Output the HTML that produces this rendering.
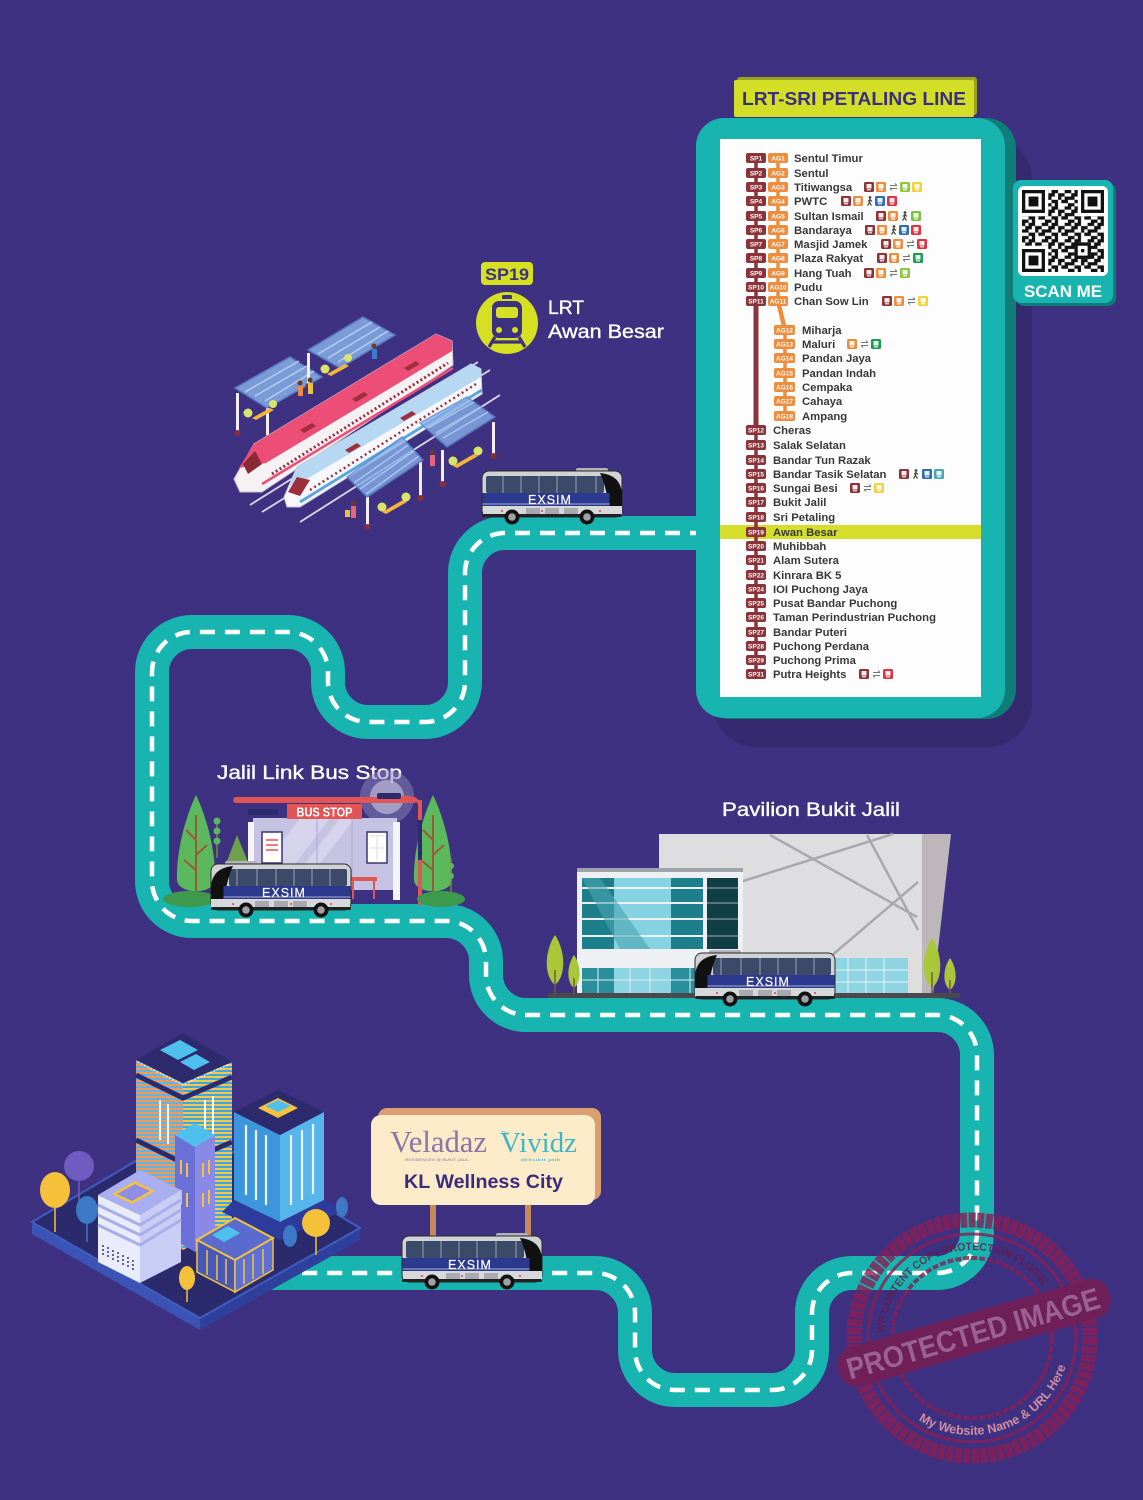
<!DOCTYPE html>
<html><head><meta charset="utf-8">
<style>
html,body{margin:0;padding:0;background:#3f3182;}
svg{display:block;}
text{font-family:"Liberation Sans",sans-serif;}
.bd{font-size:6.5px;font-weight:bold;fill:#fff;text-anchor:middle;}
.st{font-size:11.3px;font-weight:bold;fill:#383838;}
.lbl{fill:#fff;font-size:19.5px;stroke:#fff;stroke-width:0.35;}
.ex{font-size:12.5px;fill:#fff;text-anchor:middle;letter-spacing:1px;stroke:#fff;stroke-width:0.2;}
.serif{font-family:"Liberation Serif",serif;}
</style></head><body>
<svg width="1143" height="1500" viewBox="0 0 1143 1500" xmlns="http://www.w3.org/2000/svg">
<defs>
 <g id="bus">
  <rect x="94" y="0" width="32" height="6" rx="2" fill="#b3b4ba"/>
  <rect x="0" y="3" width="140" height="46" rx="7" fill="#d1d2d6" stroke="#2a2a2a" stroke-width="1"/>
  <rect x="4" y="8" width="118" height="17" rx="2" fill="#3c4a69"/>
  <g stroke="#8a93a8" stroke-width="1.2">
   <line x1="21" y1="8" x2="21" y2="25"/><line x1="39" y1="8" x2="39" y2="25"/><line x1="57" y1="8" x2="57" y2="25"/>
   <line x1="75" y1="8" x2="75" y2="25"/><line x1="94" y1="8" x2="94" y2="25"/><line x1="114" y1="8" x2="114" y2="25"/>
  </g>
  <path d="M118 5 Q139 7 140 26 L140 39 L127 39 Q124 18 118 5Z" fill="#111"/>
  <rect x="0.5" y="25" width="127" height="13" fill="#2b3a8e"/>
  <rect x="0.5" y="35.5" width="127" height="1" fill="#fff" opacity=".6"/>
  <rect x="1" y="38" width="139" height="9" fill="#d7d8dc"/>
  <rect x="44" y="40" width="14" height="6" fill="#a9aab0"/>
  <rect x="63" y="40" width="14" height="6" fill="#a9aab0"/>
  <rect x="82" y="40" width="14" height="6" fill="#a9aab0"/>
  <circle cx="20" cy="43" r="1" fill="#e04040"/><circle cx="60" cy="43" r="1" fill="#e04040"/><circle cx="118" cy="43" r="1" fill="#e04040"/>
  <rect x="0" y="46" width="140" height="3" rx="1.5" fill="#222"/>
  <circle cx="30" cy="49" r="7.5" fill="#111"/><circle cx="30" cy="49" r="3.8" fill="#a0a0a5"/>
  <circle cx="105" cy="49" r="7.5" fill="#111"/><circle cx="105" cy="49" r="3.8" fill="#a0a0a5"/>
 </g>
 <g id="ic"><rect width="10" height="10" rx="1.5"/><rect x="2.5" y="2" width="5" height="4.5" fill="#fff" opacity=".9"/><rect x="3" y="7.2" width="4" height="1.2" fill="#fff" opacity=".9"/></g>
 <g id="xf"><path d="M1 3.5h7M6 1.5l2 2M8 6.5h-7M3 8.5l-2-2" stroke="#777" stroke-width="1" fill="none"/></g>
 <g id="wk"><circle cx="5" cy="1.5" r="1.4" fill="#444"/><path d="M5 3L4.5 6.5L2.5 9.5M4.5 6.5L6.5 9.5M3 5.5L5 3.5L7 5.5" stroke="#444" stroke-width="1.2" fill="none"/></g>
 <pattern id="qrp" width="7" height="5" patternUnits="userSpaceOnUse">
  <path d="M0 0h1v1h-1zM2 0h2v1h-2zM6 0h1v1h-1zM1 1h2v1h-2zM4 1h2v1h-2zM0 2h2v1h-2zM4 2h1v1h-1zM6 2h1v1h-1zM2 3h2v1h-2zM5 3h2v1h-2zM0 4h2v1h-2zM3 4h1v1h-1z" fill="#111"/>
 </pattern>
 <pattern id="stripeO" width="4" height="4" patternUnits="userSpaceOnUse">
  <rect width="4" height="4" fill="#5fb3e6"/><rect width="4" height="2" fill="#f29a55"/>
 </pattern>
 <pattern id="stripeY" width="4" height="4" patternUnits="userSpaceOnUse">
  <rect width="4" height="4" fill="#3aa8e2"/><rect width="4" height="2" fill="#f7c548"/>
 </pattern>
</defs>

<rect width="1143" height="1500" fill="#3f3182"/>

<!-- ROAD -->
<path d="M705 533 H505 A40 40 0 0 0 465 573 V682 A40 40 0 0 1 425 722 H368 A40 40 0 0 1 328 682 V672 A40 40 0 0 0 288 632 H192 A40 40 0 0 0 152 672 V881 A40 40 0 0 0 192 921 H446 A40 40 0 0 1 486 961 V975 A40 40 0 0 0 526 1015 H937 A40 40 0 0 1 977 1055 V1233 A40 40 0 0 1 937 1273 H852 A40 40 0 0 0 812 1313 V1350 A40 40 0 0 1 772 1390 H675 A40 40 0 0 1 635 1350 V1313 A40 40 0 0 0 595 1273 H270" fill="none" stroke="#18b5b0" stroke-width="34"/>
<path d="M705 533 H505 A40 40 0 0 0 465 573 V682 A40 40 0 0 1 425 722 H368 A40 40 0 0 1 328 682 V672 A40 40 0 0 0 288 632 H192 A40 40 0 0 0 152 672 V881 A40 40 0 0 0 192 921 H446 A40 40 0 0 1 486 961 V975 A40 40 0 0 0 526 1015 H937 A40 40 0 0 1 977 1055 V1233 A40 40 0 0 1 937 1273 H852 A40 40 0 0 0 812 1313 V1350 A40 40 0 0 1 772 1390 H675 A40 40 0 0 1 635 1350 V1313 A40 40 0 0 0 595 1273 H270" fill="none" stroke="#fff" stroke-width="4.5" stroke-dasharray="15 10"/>

<!-- PANEL -->
<rect x="712" y="135" width="320" height="612" rx="45" fill="#35296f"/>
<rect x="700" y="118" width="316" height="601" rx="30" fill="#0f7d78"/>
<rect x="696" y="118" width="309" height="600" rx="28" fill="#18b5b0"/>
<rect x="720" y="139" width="261" height="558" fill="#fdfdfd"/>
<rect x="720" y="525" width="261" height="14" fill="#d5df2b"/>
<rect x="737" y="77" width="240" height="38" rx="3" fill="#9aa51c"/>
<rect x="734" y="80" width="240" height="37" rx="2" fill="#d3df27"/>
<text x="854" y="105" text-anchor="middle" font-size="18.5" font-weight="bold" fill="#3b2d82" textLength="224" lengthAdjust="spacingAndGlyphs">LRT-SRI PETALING LINE</text>

<!-- line connectors -->
<line x1="756" y1="158" x2="756" y2="674" stroke="#8b3338" stroke-width="3.5"/>
<line x1="756" y1="301" x2="756" y2="430" stroke="#8b3338" stroke-width="5"/>
<line x1="778" y1="158" x2="778" y2="301" stroke="#ef8d3e" stroke-width="3.5"/>
<line x1="778" y1="301" x2="785" y2="330" stroke="#ef8d3e" stroke-width="4.5"/>
<line x1="785" y1="330" x2="785" y2="416" stroke="#ef8d3e" stroke-width="3.5"/>

<!-- SP+AG rows -->
<g>
<rect x="746" y="153" width="20" height="10" rx="2" fill="#8b3338"/><rect x="768" y="153" width="20" height="10" rx="2" fill="#ef8d3e"/><text x="756" y="160.3" class="bd">SP1</text><text x="778" y="160.3" class="bd">AG1</text><text x="794" y="162" class="st">Sentul Timur</text>
<rect x="746" y="168" width="20" height="10" rx="2" fill="#8b3338"/><rect x="768" y="168" width="20" height="10" rx="2" fill="#ef8d3e"/><text x="756" y="175.3" class="bd">SP2</text><text x="778" y="175.3" class="bd">AG2</text><text x="794" y="177" class="st">Sentul</text>
<rect x="746" y="182" width="20" height="10" rx="2" fill="#8b3338"/><rect x="768" y="182" width="20" height="10" rx="2" fill="#ef8d3e"/><text x="756" y="189.3" class="bd">SP3</text><text x="778" y="189.3" class="bd">AG3</text><text x="794" y="191" class="st">Titiwangsa</text>
<rect x="746" y="196" width="20" height="10" rx="2" fill="#8b3338"/><rect x="768" y="196" width="20" height="10" rx="2" fill="#ef8d3e"/><text x="756" y="203.3" class="bd">SP4</text><text x="778" y="203.3" class="bd">AG4</text><text x="794" y="205" class="st">PWTC</text>
<rect x="746" y="211" width="20" height="10" rx="2" fill="#8b3338"/><rect x="768" y="211" width="20" height="10" rx="2" fill="#ef8d3e"/><text x="756" y="218.3" class="bd">SP5</text><text x="778" y="218.3" class="bd">AG5</text><text x="794" y="220" class="st">Sultan Ismail</text>
<rect x="746" y="225" width="20" height="10" rx="2" fill="#8b3338"/><rect x="768" y="225" width="20" height="10" rx="2" fill="#ef8d3e"/><text x="756" y="232.3" class="bd">SP6</text><text x="778" y="232.3" class="bd">AG6</text><text x="794" y="234" class="st">Bandaraya</text>
<rect x="746" y="239" width="20" height="10" rx="2" fill="#8b3338"/><rect x="768" y="239" width="20" height="10" rx="2" fill="#ef8d3e"/><text x="756" y="246.3" class="bd">SP7</text><text x="778" y="246.3" class="bd">AG7</text><text x="794" y="248" class="st">Masjid Jamek</text>
<rect x="746" y="253" width="20" height="10" rx="2" fill="#8b3338"/><rect x="768" y="253" width="20" height="10" rx="2" fill="#ef8d3e"/><text x="756" y="260.3" class="bd">SP8</text><text x="778" y="260.3" class="bd">AG8</text><text x="794" y="262" class="st">Plaza Rakyat</text>
<rect x="746" y="268" width="20" height="10" rx="2" fill="#8b3338"/><rect x="768" y="268" width="20" height="10" rx="2" fill="#ef8d3e"/><text x="756" y="275.3" class="bd">SP9</text><text x="778" y="275.3" class="bd">AG9</text><text x="794" y="277" class="st">Hang Tuah</text>
<rect x="746" y="282" width="20" height="10" rx="2" fill="#8b3338"/><rect x="768" y="282" width="20" height="10" rx="2" fill="#ef8d3e"/><text x="756" y="289.3" class="bd">SP10</text><text x="778" y="289.3" class="bd">AG10</text><text x="794" y="291" class="st">Pudu</text>
<rect x="746" y="296" width="20" height="10" rx="2" fill="#8b3338"/><rect x="768" y="296" width="20" height="10" rx="2" fill="#ef8d3e"/><text x="756" y="303.3" class="bd">SP11</text><text x="778" y="303.3" class="bd">AG11</text><text x="794" y="305" class="st">Chan Sow Lin</text>
</g>
<!-- AG rows -->
<g>
<rect x="774" y="325" width="21" height="10" rx="2" fill="#ef8d3e"/><text x="784.5" y="332.3" class="bd">AG12</text><text x="802" y="334" class="st">Miharja</text>
<rect x="774" y="339" width="21" height="10" rx="2" fill="#ef8d3e"/><text x="784.5" y="346.3" class="bd">AG13</text><text x="802" y="348" class="st">Maluri</text>
<rect x="774" y="353" width="21" height="10" rx="2" fill="#ef8d3e"/><text x="784.5" y="360.3" class="bd">AG14</text><text x="802" y="362" class="st">Pandan Jaya</text>
<rect x="774" y="368" width="21" height="10" rx="2" fill="#ef8d3e"/><text x="784.5" y="375.3" class="bd">AG15</text><text x="802" y="377" class="st">Pandan Indah</text>
<rect x="774" y="382" width="21" height="10" rx="2" fill="#ef8d3e"/><text x="784.5" y="389.3" class="bd">AG16</text><text x="802" y="391" class="st">Cempaka</text>
<rect x="774" y="396" width="21" height="10" rx="2" fill="#ef8d3e"/><text x="784.5" y="403.3" class="bd">AG17</text><text x="802" y="405" class="st">Cahaya</text>
<rect x="774" y="411" width="21" height="10" rx="2" fill="#ef8d3e"/><text x="784.5" y="418.3" class="bd">AG18</text><text x="802" y="420" class="st">Ampang</text>
</g>
<!-- SP rows -->
<g>
<rect x="746" y="425" width="20" height="10" rx="2" fill="#8b3338"/><text x="756" y="432.3" class="bd">SP12</text><text x="773" y="434" class="st">Cheras</text>
<rect x="746" y="440" width="20" height="10" rx="2" fill="#8b3338"/><text x="756" y="447.3" class="bd">SP13</text><text x="773" y="449" class="st">Salak Selatan</text>
<rect x="746" y="455" width="20" height="10" rx="2" fill="#8b3338"/><text x="756" y="462.3" class="bd">SP14</text><text x="773" y="464" class="st">Bandar Tun Razak</text>
<rect x="746" y="469" width="20" height="10" rx="2" fill="#8b3338"/><text x="756" y="476.3" class="bd">SP15</text><text x="773" y="478" class="st">Bandar Tasik Selatan</text>
<rect x="746" y="483" width="20" height="10" rx="2" fill="#8b3338"/><text x="756" y="490.3" class="bd">SP16</text><text x="773" y="492" class="st">Sungai Besi</text>
<rect x="746" y="497" width="20" height="10" rx="2" fill="#8b3338"/><text x="756" y="504.3" class="bd">SP17</text><text x="773" y="506" class="st">Bukit Jalil</text>
<rect x="746" y="512" width="20" height="10" rx="2" fill="#8b3338"/><text x="756" y="519.3" class="bd">SP18</text><text x="773" y="521" class="st">Sri Petaling</text>
<rect x="746" y="527" width="20" height="10" rx="2" fill="#8b3338"/><text x="756" y="534.3" class="bd">SP19</text><text x="773" y="536" class="st">Awan Besar</text>
<rect x="746" y="541" width="20" height="10" rx="2" fill="#8b3338"/><text x="756" y="548.3" class="bd">SP20</text><text x="773" y="550" class="st">Muhibbah</text>
<rect x="746" y="555" width="20" height="10" rx="2" fill="#8b3338"/><text x="756" y="562.3" class="bd">SP21</text><text x="773" y="564" class="st">Alam Sutera</text>
<rect x="746" y="570" width="20" height="10" rx="2" fill="#8b3338"/><text x="756" y="577.3" class="bd">SP22</text><text x="773" y="579" class="st">Kinrara BK 5</text>
<rect x="746" y="584" width="20" height="10" rx="2" fill="#8b3338"/><text x="756" y="591.3" class="bd">SP24</text><text x="773" y="593" class="st">IOI Puchong Jaya</text>
<rect x="746" y="598" width="20" height="10" rx="2" fill="#8b3338"/><text x="756" y="605.3" class="bd">SP25</text><text x="773" y="607" class="st">Pusat Bandar Puchong</text>
<rect x="746" y="612" width="20" height="10" rx="2" fill="#8b3338"/><text x="756" y="619.3" class="bd">SP26</text><text x="773" y="621" class="st">Taman Perindustrian Puchong</text>
<rect x="746" y="627" width="20" height="10" rx="2" fill="#8b3338"/><text x="756" y="634.3" class="bd">SP27</text><text x="773" y="636" class="st">Bandar Puteri</text>
<rect x="746" y="641" width="20" height="10" rx="2" fill="#8b3338"/><text x="756" y="648.3" class="bd">SP28</text><text x="773" y="650" class="st">Puchong Perdana</text>
<rect x="746" y="655" width="20" height="10" rx="2" fill="#8b3338"/><text x="756" y="662.3" class="bd">SP29</text><text x="773" y="664" class="st">Puchong Prima</text>
<rect x="746" y="669" width="20" height="10" rx="2" fill="#8b3338"/><text x="756" y="676.3" class="bd">SP31</text><text x="773" y="678" class="st">Putra Heights</text>
</g>
<!-- icons -->
<g>
<use href="#ic" x="864" y="182" fill="#8b3338"/><use href="#ic" x="876" y="182" fill="#ef8d3e"/><use href="#xf" x="889" y="182"/><use href="#ic" x="900" y="182" fill="#8dc63f"/><use href="#ic" x="912" y="182" fill="#f7d040"/>
<use href="#ic" x="841" y="196" fill="#8b3338"/><use href="#ic" x="853" y="196" fill="#ef8d3e"/><use href="#wk" x="865" y="196"/><use href="#ic" x="875" y="196" fill="#2f6db5"/><use href="#ic" x="887" y="196" fill="#e0323f"/>
<use href="#ic" x="876" y="211" fill="#8b3338"/><use href="#ic" x="888" y="211" fill="#ef8d3e"/><use href="#wk" x="900" y="211"/><use href="#ic" x="911" y="211" fill="#7cc242"/>
<use href="#ic" x="865" y="225" fill="#8b3338"/><use href="#ic" x="877" y="225" fill="#ef8d3e"/><use href="#wk" x="889" y="225"/><use href="#ic" x="899" y="225" fill="#2f6db5"/><use href="#ic" x="911" y="225" fill="#e0323f"/>
<use href="#ic" x="881" y="239" fill="#8b3338"/><use href="#ic" x="893" y="239" fill="#ef8d3e"/><use href="#xf" x="906" y="239"/><use href="#ic" x="917" y="239" fill="#e0323f"/>
<use href="#ic" x="877" y="253" fill="#8b3338"/><use href="#ic" x="889" y="253" fill="#ef8d3e"/><use href="#xf" x="902" y="253"/><use href="#ic" x="913" y="253" fill="#1e9a50"/>
<use href="#ic" x="864" y="268" fill="#8b3338"/><use href="#ic" x="876" y="268" fill="#ef8d3e"/><use href="#xf" x="889" y="268"/><use href="#ic" x="900" y="268" fill="#8dc63f"/>
<use href="#ic" x="882" y="296" fill="#8b3338"/><use href="#ic" x="894" y="296" fill="#ef8d3e"/><use href="#xf" x="907" y="296"/><use href="#ic" x="918" y="296" fill="#f7d040"/>
<use href="#ic" x="847" y="339" fill="#ef8d3e"/><use href="#xf" x="860" y="339"/><use href="#ic" x="871" y="339" fill="#1e9a50"/>
<use href="#ic" x="899" y="469" fill="#8b3338"/><use href="#wk" x="911" y="469"/><use href="#ic" x="922" y="469" fill="#2f6db5"/><use href="#ic" x="934" y="469" fill="#45a9b8"/>
<use href="#ic" x="850" y="483" fill="#8b3338"/><use href="#xf" x="863" y="483"/><use href="#ic" x="874" y="483" fill="#f7d040"/>
<use href="#ic" x="859" y="669" fill="#8b3338"/><use href="#xf" x="872" y="669"/><use href="#ic" x="883" y="669" fill="#e0323f"/>
</g>

<!-- QR -->
<rect x="1016" y="183" width="100" height="123" rx="8" fill="#0f7d78"/>
<rect x="1013" y="180" width="100" height="123" rx="8" fill="#18b5b0"/>
<rect x="1018" y="186" width="90" height="90" rx="6" fill="#fff"/>
<g transform="translate(1022,190) scale(3.28)">
 <rect width="25" height="25" fill="url(#qrp)"/>
 <rect x="0" y="0" width="8" height="8" fill="#fff"/><rect x="17" y="0" width="8" height="8" fill="#fff"/><rect x="0" y="17" width="8" height="8" fill="#fff"/>
 <rect x="0" y="0" width="7" height="7" fill="#111"/><rect x="1" y="1" width="5" height="5" fill="#fff"/><rect x="2" y="2" width="3" height="3" fill="#111"/>
 <rect x="18" y="0" width="7" height="7" fill="#111"/><rect x="19" y="1" width="5" height="5" fill="#fff"/><rect x="20" y="2" width="3" height="3" fill="#111"/>
 <rect x="0" y="18" width="7" height="7" fill="#111"/><rect x="1" y="19" width="5" height="5" fill="#fff"/><rect x="2" y="20" width="3" height="3" fill="#111"/>
 <rect x="16" y="16" width="5" height="5" fill="#111"/><rect x="17" y="17" width="3" height="3" fill="#fff"/><rect x="18" y="18" width="1" height="1" fill="#111"/>
</g>
<text x="1063" y="297" text-anchor="middle" font-size="17" font-weight="bold" fill="#fff" textLength="78" lengthAdjust="spacingAndGlyphs">SCAN ME</text>

<!-- SP19 + LRT icon -->
<rect x="481" y="262" width="52" height="23" rx="4" fill="#d4e021"/>
<text x="507" y="280" text-anchor="middle" font-size="17" font-weight="bold" fill="#3f3182" textLength="44" lengthAdjust="spacingAndGlyphs">SP19</text>
<circle cx="507" cy="323" r="31" fill="#d4e021"/>
<rect x="502" y="295" width="10" height="4" rx="1" fill="#3f3182"/>
<rect x="492" y="301" width="30" height="37" rx="7" fill="#3f3182"/>
<rect x="496" y="307" width="22" height="11" rx="3" fill="#d4e021"/>
<circle cx="499" cy="330" r="3" fill="#d4e021"/><circle cx="515" cy="330" r="3" fill="#d4e021"/>
<path d="M495 337 L489 347 M519 337 L525 347 M492 342 H522" stroke="#3f3182" stroke-width="3.2"/>
<text x="548" y="314" class="lbl" textLength="36" lengthAdjust="spacingAndGlyphs">LRT</text>
<text x="548" y="338" class="lbl" textLength="116" lengthAdjust="spacingAndGlyphs">Awan Besar</text>

<!-- TRAIN STATION -->
<g>
 <path d="M250 505 L478 362 M262 512 L490 370 M300 522 L500 395" stroke="#ddd8ea" stroke-width="1.8"/>
 <!-- canopy A -->
 <rect x="236" y="393" width="3" height="40" fill="#f2eef4"/><circle cx="237.5" cy="433" r="3" fill="#8a2e35"/>
 <rect x="266" y="408" width="3" height="30" fill="#f2eef4"/><circle cx="267.5" cy="438" r="3" fill="#8a2e35"/>
 <polygon points="235,388 290,357 322,377 267,408" fill="#86aee6" opacity=".85" stroke="#5d86cc" stroke-width="1.5"/>
 <path d="M245 392 L299 361 M255 396 L307 366 M265 401 L314 371" stroke="#b6cff2" stroke-width="1.5"/>
 <!-- canopy B -->
 <rect x="307" y="353" width="3" height="33" fill="#f2eef4"/><circle cx="308.5" cy="386" r="3" fill="#8a2e35"/>
 <polygon points="308,350 363,317 395,335 340,368" fill="#86aee6" opacity=".85" stroke="#5d86cc" stroke-width="1.5"/>
 <path d="M318 354 L372 322 M328 358 L380 327 M338 362 L388 331" stroke="#b6cff2" stroke-width="1.5"/>
 <!-- benches / people behind -->
 <polygon points="252,418 270,408 274,410 256,420" fill="#f5b43b"/><circle cx="248" cy="413" r="4.5" fill="#d8e46a"/><circle cx="273" cy="404" r="4" fill="#d8e46a"/>
 <polygon points="327,374 345,364 349,366 331,376" fill="#f5b43b"/><circle cx="325" cy="369" r="4.5" fill="#d8e46a"/><circle cx="348" cy="358" r="4" fill="#d8e46a"/>
 <circle cx="300" cy="383" r="2.5" fill="#6b3a2a"/><rect x="298" y="386" width="5" height="10" fill="#e98a4a"/>
 <circle cx="310" cy="380" r="2.5" fill="#6b3a2a"/><rect x="308" y="383" width="5" height="11" fill="#e7c340"/>
 <circle cx="374" cy="346" r="2.5" fill="#6b3a2a"/><rect x="372" y="349" width="5" height="10" fill="#3f7ac8"/>
 <!-- pink train -->
 <polygon points="234,479 254,444 436,334 452,341 453,365 262,492 240,492" fill="#f6f2f4" stroke="#c9c3d3" stroke-width="1"/>
 <polygon points="239,468 254,444 436,334 452,341 452,351 266,463" fill="#ec4e77"/>
 <polygon points="243,464 255,451 262,464 248,474" fill="#8a2a35"/>
 <line x1="262" y1="484" x2="453" y2="368" stroke="#ec4e77" stroke-width="2.5"/>
 <line x1="272" y1="474" x2="448" y2="363" stroke="#9b2f3e" stroke-width="3" stroke-dasharray="2 2.5"/>
 <polygon points="300,430 312,423 316,426 304,433" fill="#a0303c"/>
 <polygon points="352,399 364,392 368,395 356,402" fill="#a0303c"/>
 <polygon points="404,368 416,361 420,364 408,371" fill="#a0303c"/>
 <!-- blue train -->
 <polygon points="284,497 297,467 471,364 481,369 482,394 300,507 287,507" fill="#f7f8fb" stroke="#c9c3d3" stroke-width="1"/>
 <polygon points="290,485 297,467 471,364 481,369 481,377 303,481" fill="#b6d8f2"/>
 <polygon points="288,492 297,477 310,480 300,496" fill="#9b2f3e"/>
 <line x1="300" y1="502" x2="482" y2="390" stroke="#5aa7e0" stroke-width="3"/>
 <line x1="310" y1="490" x2="476" y2="384" stroke="#9b2f3e" stroke-width="2.5" stroke-dasharray="2 3"/>
 <polygon points="345,450 357,443 361,446 349,453" fill="#a0303c"/>
 <polygon points="400,418 412,411 416,414 404,421" fill="#a0303c"/>
 <!-- canopy D -->
 <rect x="441" y="450" width="3" height="34" fill="#f2eef4"/><circle cx="442.5" cy="484" r="3" fill="#8a2e35"/>
 <rect x="492" y="422" width="3" height="34" fill="#f2eef4"/><circle cx="493.5" cy="456" r="3" fill="#8a2e35"/>
 <polygon points="420,423 467,397 495,417 447,447" fill="#86aee6" opacity=".8" stroke="#5d86cc" stroke-width="1.5"/>
 <path d="M428 428 L474 402 M436 433 L481 407 M443 438 L488 412" stroke="#b6cff2" stroke-width="1.5" opacity=".8"/>
 <!-- canopy C -->
 <rect x="366" y="497" width="3" height="30" fill="#f2eef4"/><circle cx="367.5" cy="527" r="3" fill="#8a2e35"/>
 <rect x="419" y="462" width="3" height="36" fill="#f2eef4"/><circle cx="420.5" cy="498" r="3" fill="#8a2e35"/>
 <polygon points="347,477 402,437 423,460 367,497" fill="#86aee6" opacity=".8" stroke="#5d86cc" stroke-width="1.5"/>
 <path d="M354 483 L408 445 M360 489 L414 451 M366 494 L419 456" stroke="#b6cff2" stroke-width="1.5" opacity=".8"/>
 <polygon points="453,466 474,454 478,456 457,468" fill="#f5b43b"/><circle cx="453" cy="461" r="4.5" fill="#d8e46a"/><circle cx="478" cy="451" r="4.5" fill="#d8e46a"/>
 <polygon points="382,512 403,500 407,502 386,514" fill="#f5b43b"/><circle cx="382" cy="507" r="4.5" fill="#d8e46a"/><circle cx="406" cy="497" r="4.5" fill="#d8e46a"/>
 <circle cx="432" cy="452" r="2.5" fill="#6b3a2a"/><rect x="430" y="455" width="5" height="11" fill="#e4667a"/>
 <circle cx="353" cy="503" r="2.5" fill="#6b3a2a"/><rect x="351" y="506" width="5" height="12" fill="#e4667a"/><rect x="345" y="510" width="5" height="7" fill="#e7c340"/>
</g>

<!-- BUS STOP -->
<g>
 <text x="217" y="779" class="lbl" textLength="185" lengthAdjust="spacingAndGlyphs">Jalil Link Bus Stop</text>
 <circle cx="387" cy="797" r="27" fill="#8a86b6" opacity=".5"/>
 <circle cx="387" cy="797" r="17" fill="#bcb9d8" opacity=".7"/>
 <path d="M196 795 C184 820 176 855 177 880 C178 895 214 895 215 880 C216 855 208 820 196 795Z" fill="#5cb85c"/>
 <path d="M196 815 V895 M196 840 L186 830 M196 855 L207 845 M196 870 L184 860" stroke="#9a5a3a" stroke-width="2" fill="none"/>
 <path d="M433 795 C421 820 413 855 414 880 C415 895 451 895 452 880 C453 855 445 820 433 795Z" fill="#5cb85c"/>
 <path d="M433 815 V895 M433 840 L423 830 M433 855 L444 845 M433 870 L421 860" stroke="#9a5a3a" stroke-width="2" fill="none"/>
 <path d="M237 835 L219 882 L256 882Z" fill="#6ea24a"/>
 <line x1="217" y1="818" x2="217" y2="858" stroke="#6b8e3a" stroke-width="1.5"/>
 <circle cx="217" cy="821" r="3.5" fill="#5cb85c"/><circle cx="217" cy="831" r="3.5" fill="#5cb85c"/><circle cx="217" cy="841" r="3.5" fill="#5cb85c"/>
 <line x1="451" y1="858" x2="451" y2="892" stroke="#6b8e3a" stroke-width="1.5"/>
 <circle cx="451" cy="866" r="3" fill="#5cb85c"/><circle cx="451" cy="876" r="3" fill="#5cb85c"/>
 <rect x="253" y="818" width="144" height="72" fill="#c6c3e2"/>
 <polygon points="300,818 330,818 275,890 245,890" fill="#d6d4ec"/>
 <polygon points="340,818 355,818 300,890 285,890" fill="#d6d4ec"/>
 <line x1="317" y1="818" x2="317" y2="890" stroke="#aaa7cf" stroke-width="1"/>
 <line x1="352" y1="818" x2="352" y2="890" stroke="#aaa7cf" stroke-width="1"/>
 <rect x="262" y="832" width="20" height="31" fill="#fff" stroke="#3a3570" stroke-width="1.5"/>
 <path d="M266 840h12M266 845h12M266 850h12" stroke="#e25555" stroke-width="1.5"/>
 <rect x="367" y="832" width="20" height="31" fill="#fff" stroke="#3a3570" stroke-width="1.5"/>
 <path d="M370 836h14M377 836v24M370 848h14" stroke="#ddd" stroke-width="1"/>
 <rect x="248" y="822" width="6" height="62" fill="#f4f4f8"/>
 <rect x="393" y="822" width="7" height="78" fill="#f4f4f8"/>
 <rect x="350" y="877" width="27" height="4" fill="#e25555"/>
 <rect x="352" y="881" width="2" height="18" fill="#e25555"/><rect x="373" y="881" width="2" height="18" fill="#e25555"/>
 <rect x="233" y="797" width="184" height="6" rx="3" fill="#e25555"/>
 <rect x="248" y="809" width="30" height="6" fill="#2d2a6e"/>
 <rect x="287" y="804" width="75" height="15" fill="#e25555"/>
 <text x="324.5" y="816.5" text-anchor="middle" font-size="12.5" font-weight="bold" fill="#fff" textLength="56" lengthAdjust="spacingAndGlyphs">BUS STOP</text>
 <rect x="418" y="800" width="4" height="105" fill="#e25555"/>
 <rect x="418" y="820" width="4" height="40" fill="#2d2a6e"/>
 <path d="M420 806 Q419 797 402 797" stroke="#e25555" stroke-width="3" fill="none"/>
 <rect x="377" y="793" width="24" height="6" rx="2" fill="#2d2a6e"/>
 <ellipse cx="190" cy="899" rx="27" ry="8" fill="#3d9a4d"/>
 <ellipse cx="441" cy="899" rx="24" ry="8" fill="#3d9a4d"/>
</g>

<!-- PAVILION -->
<g>
 <text x="722" y="816" class="lbl" textLength="178" lengthAdjust="spacingAndGlyphs">Pavilion Bukit Jalil</text>
 <rect x="659" y="834" width="263" height="160" fill="#dedde0"/>
 <polygon points="922,834 951,834 933,994 922,994" fill="#bdb6bb"/>
 <path d="M770 835 L917 917 M740 882 L893 834 M867 835 L918 930 M830 957 L918 882" stroke="#a9a9ad" stroke-width="2.5"/>
 <rect x="577" y="871" width="166" height="124" fill="#eef0f4"/>
 <rect x="577" y="868" width="166" height="4" fill="#9fa3aa"/>
 <rect x="582" y="878" width="121" height="9" fill="#1d7f8c"/><rect x="614" y="878" width="57" height="9" fill="#84d2e2"/>
 <rect x="582" y="889" width="121" height="13" fill="#1d7f8c"/><rect x="614" y="889" width="57" height="13" fill="#84d2e2"/>
 <rect x="582" y="904" width="121" height="14" fill="#1d7f8c"/><rect x="614" y="904" width="57" height="14" fill="#84d2e2"/>
 <rect x="582" y="920" width="121" height="15" fill="#1d7f8c"/><rect x="614" y="920" width="57" height="15" fill="#84d2e2"/>
 <rect x="582" y="937" width="121" height="12" fill="#1d7f8c"/><rect x="614" y="937" width="57" height="12" fill="#84d2e2"/>
 <polygon points="582,878 600,878 650,949 620,949" fill="#4aa3b0" opacity=".6"/>
 <rect x="707" y="878" width="31" height="71" fill="#123e46"/>
 <path d="M707 888h31M707 903h31M707 919h31M707 936h31" stroke="#6e8a90" stroke-width="1.5"/>
 <rect x="582" y="968" width="158" height="25" fill="#2b8e9c"/>
 <rect x="614" y="968" width="57" height="25" fill="#8fd4e2"/>
 <path d="M598 968v25M630 968v25M650 968v25M690 968v25M720 968v25M582 980h158" stroke="#d9f0f4" stroke-width="1"/>
 <rect x="833" y="958" width="75" height="35" fill="#8fd4e2"/>
 <path d="M848 958v35M866 958v35M884 958v35M833 970h75M833 982h75" stroke="#e3f5f8" stroke-width="1"/>
 <path d="M555 935 C545 950 543 975 555 985 C567 975 565 950 555 935Z" fill="#a8c83a"/>
 <path d="M574 955 C567 965 566 982 574 988 C582 982 581 965 574 955Z" fill="#a8c83a"/>
 <path d="M932 938 C922 953 920 978 932 988 C944 978 942 953 932 938Z" fill="#a8c83a"/>
 <path d="M950 958 C943 968 942 984 950 990 C958 984 957 968 950 958Z" fill="#a8c83a"/>
 <path d="M555 970V994M574 978V994M932 972V994M950 980V994" stroke="#7a5a3a" stroke-width="1.5"/>
 <rect x="548" y="993" width="412" height="5" fill="#4a4a4e"/>
</g>

<!-- SIGN -->
<g>
 <rect x="430" y="1200" width="6" height="42" fill="#c48a5a"/>
 <rect x="525" y="1200" width="6" height="42" fill="#c48a5a"/>
 <rect x="378" y="1108" width="223" height="92" rx="9" fill="#d99f6e"/>
 <rect x="371" y="1115" width="224" height="90" rx="10" fill="#fcebc9"/>
 <text x="390" y="1152" class="serif" style="font-family:'Liberation Serif',serif" font-size="31" fill="#8b74a6" textLength="97" lengthAdjust="spacingAndGlyphs">Veladaz</text>
 <text x="405" y="1161" font-size="3.5" fill="#8b74a6" textLength="64" lengthAdjust="spacingAndGlyphs">RESIDENCES @ BUKIT JALIL</text>
 <text x="501" y="1135" font-size="5" fill="#3fb6c6">The</text>
 <text x="500" y="1152" class="serif" style="font-family:'Liberation Serif',serif" font-size="29" fill="#3fb6c6" textLength="77" lengthAdjust="spacingAndGlyphs">Vividz</text>
 <text x="520" y="1161" font-size="4" fill="#3fb6c6" textLength="40" lengthAdjust="spacingAndGlyphs">@bukit jalil</text>
 <text x="404" y="1188" font-size="19" font-weight="bold" fill="#3a2c7c" textLength="159" lengthAdjust="spacingAndGlyphs">KL Wellness City</text>
</g>

<!-- CITY -->
<g>
 <polygon points="32,1222 200,1318 200,1330 32,1234" fill="#3b53b5"/>
 <polygon points="200,1318 360,1228 360,1240 200,1330" fill="#2e3f9c"/>
 <polygon points="32,1222 192,1128 360,1228 200,1318" fill="#2b2a6c" stroke="#3f5cc0" stroke-width="2"/>
 <line x1="79" y1="1170" x2="79" y2="1215" stroke="#6f5cc0" stroke-width="1.5"/>
 <circle cx="79" cy="1166" r="15" fill="#6f5cc0"/>
 <line x1="55" y1="1195" x2="55" y2="1232" stroke="#f5c13a" stroke-width="1.5"/>
 <ellipse cx="55" cy="1190" rx="15" ry="18" fill="#f5c13a"/>
 <line x1="87" y1="1215" x2="87" y2="1242" stroke="#3e79c6" stroke-width="1.5"/>
 <ellipse cx="87" cy="1210" rx="11" ry="14" fill="#3e79c6"/>
 <polygon points="136,1060 183,1083 183,1250 136,1225" fill="url(#stripeO)"/>
 <polygon points="183,1083 232,1062 232,1225 183,1250" fill="url(#stripeY)"/>
 <path d="M160 1100v40M168 1104v40M205 1100v40M213 1096v40" stroke="#fff" stroke-width="2"/>
 <path d="M136 1075 L183 1098 L232 1077 M136 1140 L183 1163 L232 1142" stroke="#2d2a6e" stroke-width="5" fill="none"/>
 <polygon points="136,1060 183,1033 232,1062 183,1083" fill="#2d2a6e"/>
 <polygon points="160,1050 180,1040 198,1050 178,1060" fill="#4fc0ee"/>
 <polygon points="180,1062 196,1054 210,1062 194,1070" fill="#4fc0ee"/>
 <path d="M138 1062 L183 1085 L230 1064" stroke="#fff" stroke-width="1.5" stroke-dasharray="1.5 2" fill="none"/>
 <polygon points="175,1135 195,1147 195,1252 175,1240" fill="#6b6fd8"/>
 <polygon points="195,1147 215,1135 215,1240 195,1252" fill="#8a8ae6"/>
 <polygon points="175,1135 195,1123 215,1135 195,1147" fill="#4fc0ee"/>
 <path d="M181 1160v14M187 1163v14M181 1190v14M187 1193v14M203 1163v14M209 1160v14M203 1193v14M209 1190v14" stroke="#f5c13a" stroke-width="2"/>
 <polygon points="234,1112 280,1135 280,1222 234,1200" fill="#3d95dc"/>
 <polygon points="280,1135 324,1112 324,1200 280,1222" fill="#56b6ec"/>
 <path d="M246 1125v70M256 1130v70M266 1135v70M291 1135v70M302 1130v70M313 1124v70" stroke="#eaf6ff" stroke-width="2.2"/>
 <polygon points="234,1112 278,1090 324,1112 280,1135" fill="#2d2a6e"/>
 <polygon points="258,1108 278,1098 298,1108 278,1118" fill="#f6c23b"/>
 <polygon points="265,1106 278,1100 291,1106 278,1112" fill="#4fc0ee"/>
 <polygon points="234,1200 280,1222 324,1200 345,1210 280,1240 222,1212" fill="#2d3c9c"/>
 <polygon points="98,1195 140,1215 140,1283 98,1262" fill="#e9ecfa"/>
 <polygon points="140,1215 181,1190 181,1262 140,1283" fill="#c9cdf5"/>
 <path d="M98 1205 L140 1225 L181 1200 M98 1215 L140 1235 L181 1210 M98 1225 L140 1245 L181 1220" stroke="#a9aeea" stroke-width="3" fill="none"/>
 <polygon points="98,1195 140,1170 181,1190 140,1215" fill="#a8aef0"/>
 <polygon points="112,1194 135,1181 155,1191 132,1204" fill="#f6c23b"/>
 <polygon points="117,1194 135,1184 150,1191 132,1201" fill="#8e8ee6"/>
 <path d="M103 1245v12M108 1247v12M113 1250v12M118 1252v12M123 1255v12M128 1257v12M133 1260v12" stroke="#3a3570" stroke-width="1.5" stroke-dasharray="2 2"/>
 <polygon points="197,1240 235,1260 235,1292 197,1272" fill="#4858b8" stroke="#f5c13a" stroke-width="1.5"/>
 <polygon points="235,1260 273,1238 273,1270 235,1292" fill="#5e70d4" stroke="#f5c13a" stroke-width="1.5"/>
 <polygon points="197,1240 235,1218 273,1238 235,1260" fill="#5a6bd0" stroke="#f5c13a" stroke-width="2"/>
 <path d="M207 1250v25M217 1255v25M226 1259v25M244 1259v25M253 1254v25M263 1249v25" stroke="#f5c13a" stroke-width="1.5"/>
 <polygon points="212,1235 228,1226 240,1233 224,1242" fill="#4fc0ee"/>
 <line x1="316" y1="1230" x2="316" y2="1255" stroke="#f5c13a" stroke-width="1.5"/>
 <circle cx="316" cy="1223" r="14" fill="#f5c13a"/>
 <ellipse cx="290" cy="1236" rx="7" ry="11" fill="#3e79c6"/>
 <ellipse cx="342" cy="1207" rx="6" ry="10" fill="#3e79c6"/>
 <line x1="187" y1="1285" x2="187" y2="1302" stroke="#f5c13a" stroke-width="1.5"/>
 <ellipse cx="187" cy="1278" rx="8" ry="12" fill="#f5c13a"/>
</g>

<!-- BUSES -->
<use href="#bus" transform="translate(482,468)"/>
<text x="550" y="504" class="ex">EXSIM</text>
<use href="#bus" transform="translate(351,861) scale(-1,1)"/>
<text x="284" y="897" class="ex">EXSIM</text>
<use href="#bus" transform="translate(835,950) scale(-1,1)"/>
<text x="768" y="986" class="ex">EXSIM</text>
<use href="#bus" transform="translate(402,1233)"/>
<text x="470" y="1269" class="ex">EXSIM</text>

<!-- WATERMARK -->
<g opacity=".8">
 <circle cx="972" cy="1338" r="118" fill="none" stroke="#8a1f55" stroke-width="15" stroke-dasharray="7 1.5"/>
 <circle cx="972" cy="1338" r="104" fill="none" stroke="#8a1f55" stroke-width="3"/>
 <circle cx="972" cy="1338" r="80" fill="none" stroke="#8a1f55" stroke-width="4" stroke-dasharray="6 2"/>
 <path id="wmTop" d="M884.1 1333.4 A88 88 0 0 1 1047.4 1292.7" fill="none"/>
 <text font-size="11" font-weight="bold" fill="#6a1845"><textPath href="#wmTop" textLength="215" lengthAdjust="spacingAndGlyphs">WP CONTENT COPY PROTECTION PLUGIN</textPath></text>
 <path id="wmBot" d="M918.6 1420.2 A100 100 0 0 0 1066.7 1363.4" fill="none"/>
 <text font-size="12.5" font-weight="bold" fill="#f4a3a8"><textPath href="#wmBot" textLength="180" lengthAdjust="spacingAndGlyphs">My Website Name &amp; URL Here</textPath></text>
 <g transform="rotate(-16 973 1333)">
  <rect x="833" y="1313" width="282" height="40" rx="18" fill="#7d1c4f"/>
  <text x="973" y="1344" text-anchor="middle" font-size="30" font-weight="bold" fill="#b06f97" textLength="262" lengthAdjust="spacingAndGlyphs">PROTECTED IMAGE</text>
 </g>
</g>
</svg>
</body></html>
